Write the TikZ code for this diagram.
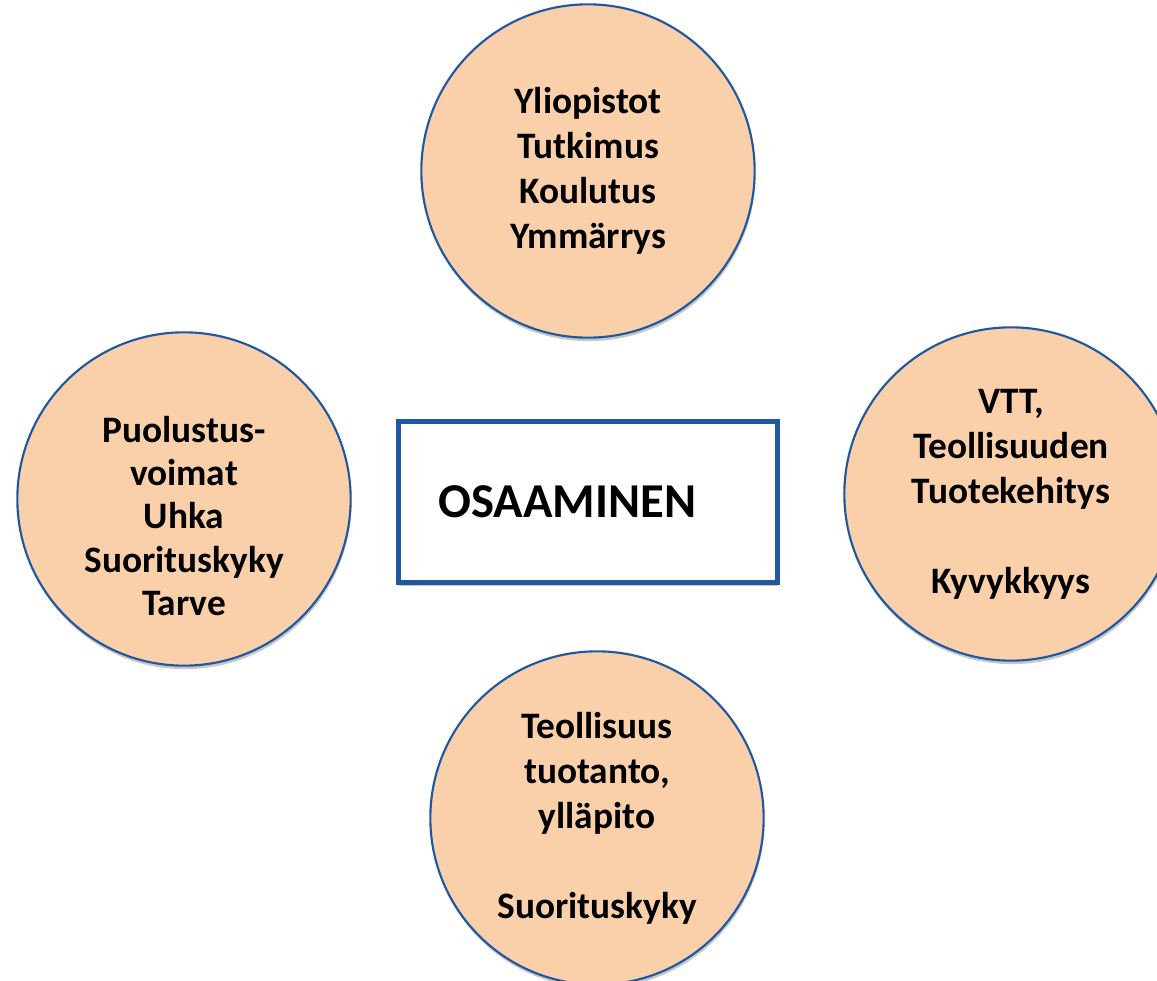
\documentclass[tikz,border=0pt]{standalone}
\usepackage{fontspec}
\setmainfont{Carlito}
\usetikzlibrary{shadows}
\definecolor{peach}{HTML}{F9D0A9}
\definecolor{rimblue}{HTML}{1F57A0}
\tikzset{
  bubble/.style={circle, draw=rimblue, line width=1.6pt, fill=peach, minimum size=250pt, inner sep=0pt,
    drop shadow={opacity=0.22, shadow xshift=0.6pt, shadow yshift=-2.6pt, fill=black}},
  bubbletext/.style={align=center, font=\fontsize{28}{33.75}\selectfont\bfseries, text=black},
  centerbox/.style={rectangle, draw=rimblue, line width=3.75pt, fill=white, minimum height=120.75pt,
    text width=224.25pt, inner xsep=30pt, align=left, font=\fontsize{36.5}{40}\selectfont\bfseries,
    drop shadow={opacity=0.22, shadow xshift=0.6pt, shadow yshift=-2.6pt, fill=black}}
}
\begin{document}
\begin{tikzpicture}[x=0.75pt, y=-0.75pt]
\useasboundingbox (0,0) rectangle (1157,981);
\clip (0,0) rectangle (1157,981);
\node[bubble, bubbletext] (top) at (588,171) {Yliopistot\\Tutkimus\\Koulutus\\Ymmärrys};
\node[bubble] (left) at (184,499) {};
\node[bubbletext, font=\fontsize{28}{32.5}\selectfont\bfseries] (lefttext) at (184,516) {Puolustus-\\voimat\\Uhka\\Suorituskyky\\Tarve};
\node[bubble, bubbletext] (right) at (1011,494) {VTT,\\Teollisuuden\\Tuotekehitys\\\mbox{}\\Kyvykkyys};
\node[bubble, bubbletext] (bottom) at (597,818) {Teollisuus\\tuotanto,\\ylläpito\\\mbox{}\\Suorituskyky};
\node[centerbox] (core) at (588,502) {OSAAMINEN};
\end{tikzpicture}
\end{document}
